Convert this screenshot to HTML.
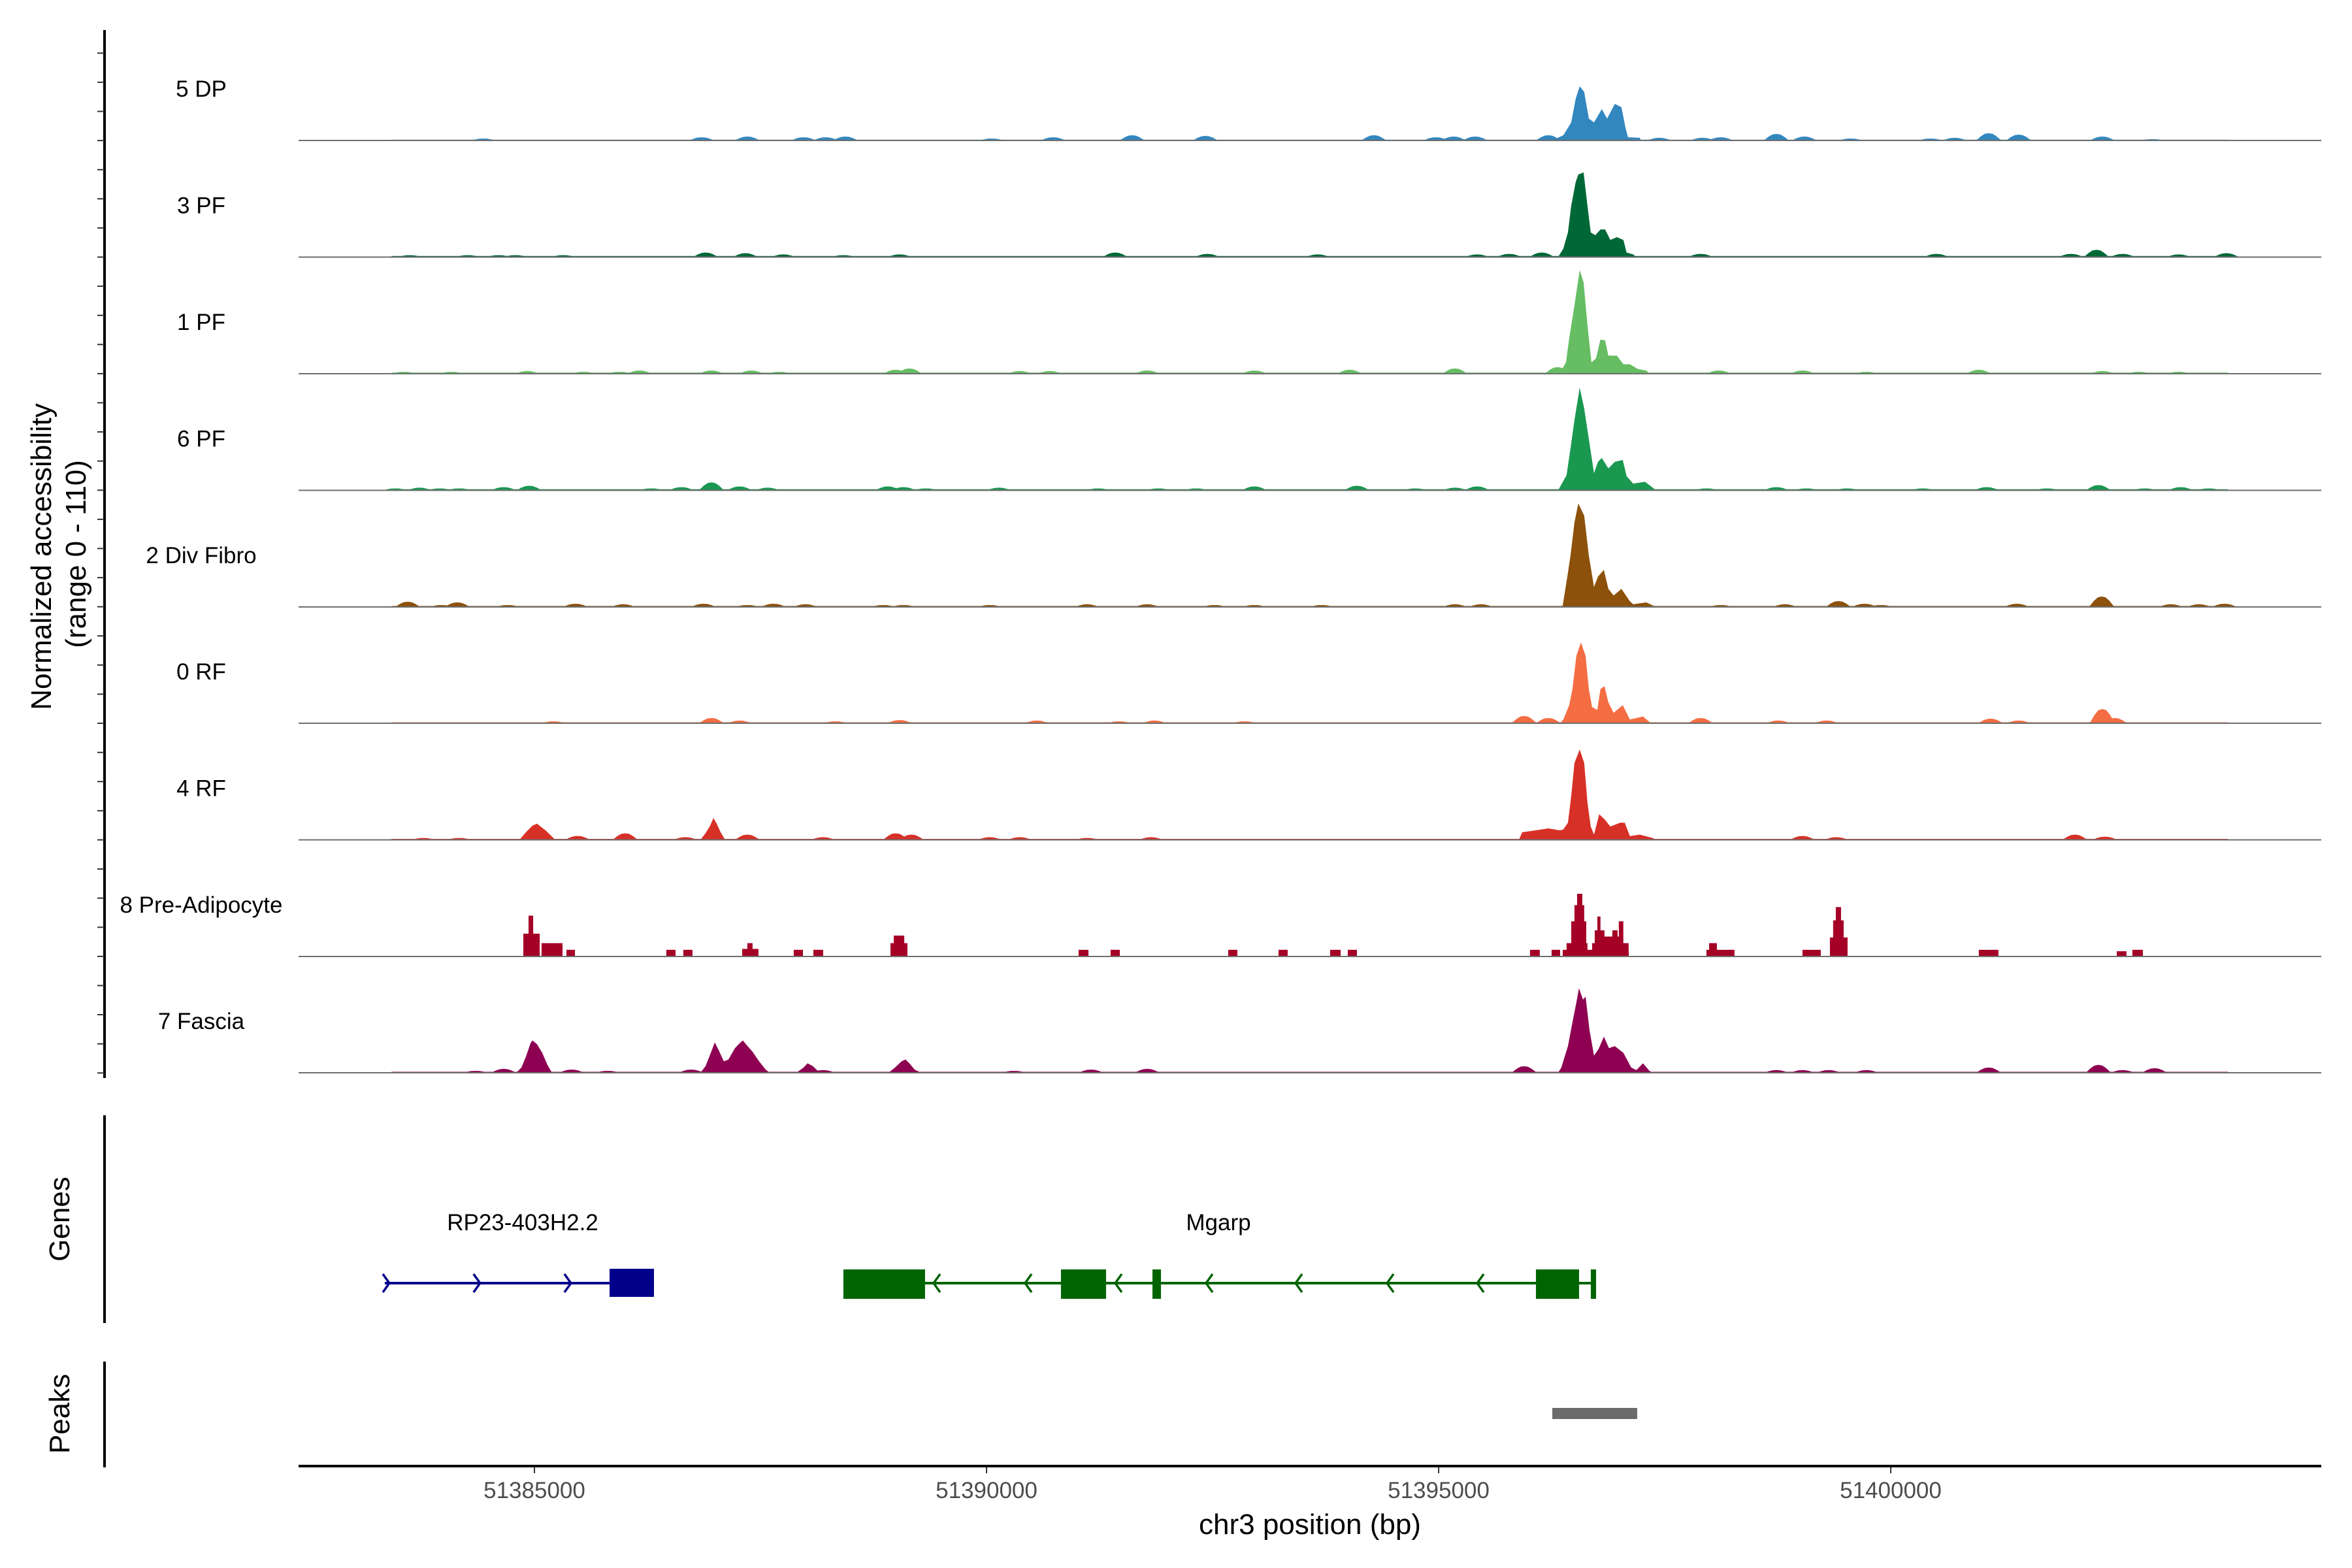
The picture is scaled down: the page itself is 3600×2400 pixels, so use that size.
<!DOCTYPE html>
<html><head><meta charset="utf-8"><style>
html,body{margin:0;padding:0;background:#fff;}
svg{display:block;font-family:"Liberation Sans",Arial,sans-serif;}
</style></head><body>
<svg id="chart" xmlns="http://www.w3.org/2000/svg" width="3600" height="2400" viewBox="0 0 3600 2400">
<rect x="0" y="0" width="3600" height="2400" fill="#fff"/>
<g id="tracks"></g>
<g id="yaxis"></g>
<text transform="translate(78,852) rotate(-90)" text-anchor="middle" font-size="44" fill="#000">Normalized accessibility</text>
<text transform="translate(131,848) rotate(-90)" text-anchor="middle" font-size="44" fill="#000">(range 0 - 110)</text>
<g id="genes"></g>
<line x1="160" y1="1707" x2="160" y2="2025" stroke="#000" stroke-width="4"/>
<text transform="translate(106,1866) rotate(-90)" text-anchor="middle" font-size="44" fill="#000">Genes</text>
<line x1="160" y1="2084" x2="160" y2="2246" stroke="#000" stroke-width="4"/>
<text transform="translate(106,2164) rotate(-90)" text-anchor="middle" font-size="44" fill="#000">Peaks</text>
<g id="peaks"></g>
<g id="xaxis"></g>
<text x="2005" y="2348" text-anchor="middle" font-size="44" fill="#000">chr3 position (bp)</text>
</svg>
<script>
// ---------- data ----------
const trackNames = ["5 DP","3 PF","1 PF","6 PF","2 Div Fibro","0 RF","4 RF","8 Pre-Adipocyte","7 Fascia"];
const trackColors = ["#3387bf","#006837","#66bd63","#1a9850","#8c510a","#f46d43","#d73027","#a50026","#8e0152"];
const xTicks = [51385000,51390000,51395000,51400000];
const yMax = 110;
const carpetStart = 51383420, carpetEnd = 51403730;
const carpetVal = [0.8,1.2,1.2,1.2,1.0,1.0,1.0,0,1.0];

const dpPos = [51396249,51396285,51396379,51396466,51396516,51396560,51396610,51396661,51396718,51396805,51396863,51396949,51397022,51397065,51397094,51397224,51397238];
const dpVal = [0,1.4,5.5,19,44,57,51,23,19,33,23,38.5,35,14,3.4,2.8,0];
const dpBgPos = [51384436,51386850,51387355,51387977,51388222,51388439,51390058,51390737,51391611,51392420,51394284,51394971,51395166,51395404,51396213,51397441,51397918,51398120,51398735,51399045,51399558,51400440,51400707,51401083,51401415,51402340,51402896];
const dpBgVal = [2,3.4,4.1,3.4,3.4,4.1,2,3.4,5.5,4.8,5.5,3.4,4.1,4.1,5.5,2.8,2.8,3.4,6.9,4.1,2,2,2.8,7.6,6.2,4.1,1.4];

const pf3Pos = [51396321,51396379,51396430,51396466,51396516,51396545,51396603,51396646,51396682,51396733,51396790,51396841,51396899,51396971,51397043,51397079,51397151,51397187];
const pf3Val = [0,9,26,54,79,87,89,54,26,23,29,29,18,21,18,4.8,2.8,0];
const pf3BgPos = [51383620,51384263,51384603,51384790,51385318,51386893,51387334,51387753,51388417,51389039,51391423,51392442,51393663,51395426,51395780,51396141,51397897,51400505,51401993,51402275,51402564,51403185,51403712];
const pf3BgVal = [2,2,2,2,2,4.8,4.1,2.8,2,2.8,4.8,3.4,2.8,2.8,3.4,4.8,3.4,3.4,3.4,7.6,3.4,2.8,4.1];

const pf1Pos = [51396321,51396357,51396408,51396444,51396502,51396560,51396603,51396646,51396690,51396740,51396790,51396841,51396877,51396971,51397043,51397115,51397202,51397296,51397332];
const pf1Val = [0,3.4,12,37,72,109,96,51,12,16,36,35,19,19,10,10,5,3.4,0];
const pf1BgPos = [51383555,51384082,51384921,51385542,51385939,51386163,51386958,51387399,51387709,51388995,51389147,51390368,51390701,51391777,51392962,51394017,51395180,51396314,51398099,51399024,51399731,51400974,51402340,51402745,51403185];
const pf1BgVal = [2,2,2.8,2,2,3.4,3.4,3.4,2,4.1,5.5,2.8,2.8,3.4,3.4,4.1,5.5,6.9,3.4,3.4,2,4.1,2.8,2,2];

const pf6Pos = [51396321,51396357,51396415,51396458,51396502,51396560,51396610,51396661,51396718,51396762,51396805,51396877,51396949,51397036,51397079,51397151,51397282,51397368,51397404];
const pf6Val = [0,6,16,44,74,108,86,54,18,30,34,23,30,32,15,7,9,2.8,0];
const pf6BgPos = [51383461,51383728,51383952,51384169,51384660,51384942,51386293,51386626,51386958,51387269,51387579,51388909,51389082,51389328,51390137,51391235,51391900,51392319,51392962,51394096,51394739,51395180,51395426,51397962,51398735,51399067,51399515,51400353,51401061,51401726,51402297,51402809,51403207,51403517];
const pf6BgVal = [2,2.8,2,2,3.4,4.8,2,3.4,8.3,4.1,2.8,4.1,3.4,2,2.8,2,2,2,4.1,4.8,2,2.8,4.1,2,3.4,2,2,2,3.4,2,5.5,2,3.4,2];

const divPos = [51396343,51396372,51396430,51396458,51396502,51396545,51396610,51396661,51396718,51396762,51396827,51396877,51396935,51397022,51397115,51397151,51397296,51397404];
const divVal = [0,1.4,36,54,89,109,96,54,21,32,39,19,12,19,6,2.8,4.8,0];
const divBgPos = [51383598,51383974,51384147,51384704,51385455,51385983,51386871,51387355,51387644,51387998,51388858,51389082,51390036,51391112,51391777,51392521,51392962,51393706,51395180,51395469,51398120,51398829,51399421,51399710,51399891,51401394,51402333,51403098,51403409,51403690];
const divBgVal = [5.5,2,4.8,2,3.4,2.8,3.4,2,3.4,2.8,2,2,2,2.8,2.8,2,2,2,2.8,2.8,2,2.8,6.2,3.4,2,3.4,11,2.8,2.8,3.4];

const rf0Pos = [51396343,51396379,51396444,51396480,51396523,51396574,51396625,51396661,51396697,51396755,51396790,51396834,51396877,51396935,51397036,51397115,51397260,51397332,51397368];
const rf0Val = [0,4,19,36,71,85,71,36,17,14,36,39,22,11,19,4,7,1.4,0];
const rf0BgPos = [51385210,51386958,51387269,51388331,51389039,51390556,51391466,51391857,51392853,51395946,51396213,51397897,51398756,51399291,51401105,51401415,51402340,51402477];
const rf0BgVal = [2,5.5,2.8,2,3.4,2.8,2,2.8,2,7.6,5.5,5.5,2.8,2.8,4.8,2.8,15,5.5];

const rf4Pos = [51384834,51384906,51384978,51385029,51385123,51385195,51385231,51386835,51386893,51386944,51386980,51387016,51387059,51387110,51395888,51395924,51396069,51396213,51396343,51396379,51396430,51396466,51396502,51396560,51396610,51396646,51396682,51396718,51396776,51396841,51396899,51397007,51397058,51397115,51397224,51397368,51397404];
const rf4Val = [0,8,15,17,10,3.4,0,0,7,15,23,17,8,0,0,8,10,12,10,11,18,46,81,95,81,39,14,5.5,27,21,14,18,18,4,5.5,2,0];
const rf4BgPos = [51383772,51384169,51385477,51386004,51386669,51387355,51388193,51388995,51389169,51390036,51390368,51391112,51391820,51399024,51399399,51402037,51402369];
const rf4BgVal = [2,2,4.1,6.9,2.8,5.5,2.8,6.9,5.5,2.8,2.8,2,2.8,4.1,2.8,5.5,3.4];

const paStart = [51384877,51384935,51385079,51385354,51386459,51386647,51387298,51387355,51387868,51388085,51388938,51388974,51391018,51391372,51392673,51393229,51393800,51393995,51396011,51396249,51396372,51396415,51396466,51396502,51396531,51396697,51396726,51396755,51396827,51396921,51396993,51397962,51397991,51399024,51399327,51399363,51399392,51400974,51402499,51402672];
const paEnd   = [51385058,51384986,51385311,51385448,51386561,51386748,51387478,51387413,51387970,51388193,51389125,51389090,51391127,51391474,51392774,51393330,51393916,51394096,51396119,51396343,51397101,51396646,51396632,51396610,51396589,51397101,51396834,51396790,51397036,51396979,51397043,51398272,51398077,51399226,51399522,51399479,51399450,51401191,51402607,51402788];
const paVal   = [24,43,14,7,7,7,8,14,7,7,14,22,7,7,7,7,7,7,7,7,7,14,37,54,66,14,27.5,42,21,27.5,37,7,14,7,20,38,52,7,5.5,7];

const faPos = [51384798,51384856,51384906,51384957,51384978,51385029,51385087,51385145,51385195,51386835,51386893,51386951,51386994,51387037,51387095,51387146,51387218,51387269,51387305,51387348,51387413,51387485,51387558,51387601,51387897,51387977,51388020,51388078,51388157,51388916,51388988,51389060,51389104,51389147,51389205,51389277,51396321,51396357,51396430,51396480,51396523,51396552,51396596,51396625,51396668,51396718,51396769,51396827,51396884,51396949,51397043,51397130,51397187,51397260,51397332,51397368];
const faVal = [0,5.5,17,31,34,30,21,8,0,0,7,21,32,24,12,14,26,31,34,29,22,12,3.4,0,0,5.5,10,7,0,0,5.5,12,14,10,3.4,0,0,5.5,28,53,74,89,77,80,45,18,25,38,26,28,21,5.5,2.8,10,2,0];
const faBgPos = [51384350,51384660,51385412,51385809,51386734,51388193,51390303,51391156,51391777,51395946,51398735,51399024,51399313,51399731,51401083,51402297,51402564,51402918];
const faBgVal = [2,4.1,3.4,2,3.4,2.8,2,3.4,4.1,6.9,2.8,2.8,2.8,2.8,5.5,8.3,2.8,4.8];

const geneNames = ["RP23-403H2.2","Mgarp"];
const rpExonStart = [51385831];
const rpExonEnd = [51386322];
const rpStart = 51383345, rpEnd = 51386322;
const mgExonStart = [51388417,51390823,51391835,51396076,51396683];
const mgExonEnd = [51389320,51391322,51391929,51396553,51396741];
const mgStart = 51388417, mgEnd = 51396741;
const peakStart = [51396257];
const peakEnd = [51397196];

// ---------- scales ----------
const X0 = 818, PXBP = 0.1384, BP0 = 51385000;
function xs(bp){ return X0 + (bp - BP0) * PXBP; }
const baselines = [215,393.5,572,750.5,929,1107,1285.5,1464,1642];
const trackH = 160;
function ys(i, v){ return baselines[i] - v / yMax * trackH; }
const NS = "http://www.w3.org/2000/svg";
function mk(tag, attrs, parent){ const e = document.createElementNS(NS, tag); for (const k in attrs) e.setAttribute(k, attrs[k]); parent.appendChild(e); return e; }

const profiles = [[dpPos,dpVal],[pf3Pos,pf3Val],[pf1Pos,pf1Val],[pf6Pos,pf6Val],[divPos,divVal],[rf0Pos,rf0Val],[rf4Pos,rf4Val],null,[faPos,faVal]];
const bgs = [[dpBgPos,dpBgVal],[pf3BgPos,pf3BgVal],[pf1BgPos,pf1BgVal],[pf6BgPos,pf6BgVal],[divBgPos,divBgVal],[rf0BgPos,rf0BgVal],[rf4BgPos,rf4BgVal],null,[faBgPos,faBgVal]];

const tracksG = document.getElementById('tracks');
const HW = 140;
for (let i = 0; i < trackNames.length; i++) {
  const g = mk('g', {}, tracksG);
  
  
  const col = trackColors[i];
  if (carpetVal[i] > 0) {
    const cx1 = xs(carpetStart), cx2 = xs(carpetEnd), cy = ys(i, carpetVal[i]);
    const c = mk('rect', {x: cx1.toFixed(1), y: cy.toFixed(1), width: (cx2-cx1).toFixed(1), height: (baselines[i]-cy).toFixed(1), fill: col}, g);
    
    
  }
  if (profiles[i]) {
    const [p, v] = profiles[i];
    let d = 'M' + xs(p[0]).toFixed(1) + ',' + baselines[i];
    for (let k = 0; k < p.length; k++) d += ' L' + xs(p[k]).toFixed(1) + ',' + ys(i, v[k]).toFixed(1);
    d += ' L' + xs(p[p.length-1]).toFixed(1) + ',' + baselines[i] + ' Z';
    const a = mk('path', {d: d, fill: col}, g);
    
    
  }
  if (bgs[i]) {
    const [p, v] = bgs[i];
    for (let k = 0; k < p.length; k++) {
      const c = p[k], h = v[k];
      const pts = [[c-HW,0],[c-HW*0.6,h*0.6],[c-HW*0.3,h*0.92],[c,h],[c+HW*0.3,h*0.92],[c+HW*0.6,h*0.6],[c+HW,0]];
      const d = 'M' + pts.map(q => xs(q[0]).toFixed(1) + ',' + ys(i,q[1]).toFixed(1)).join(' L') + ' Z';
      const b = mk('path', {d: d, fill: col}, g);
      
      
    }
  }
  if (i === 7) {
    for (let k = 0; k < paStart.length; k++) {
      const x1 = xs(paStart[k]), x2 = xs(paEnd[k]), y = ys(i, paVal[k]);
      const r = mk('rect', {x: x1.toFixed(1), y: y.toFixed(1), width: (x2-x1).toFixed(1), height: (baselines[i]-y).toFixed(1), fill: col}, g);
      
      
    }
  }
  const bl = mk('line', {x1: 457, x2: 3553, y1: baselines[i], y2: baselines[i], stroke: '#6e6e6e', 'stroke-width': 2}, g);
  
  
  const t = mk('text', {x: 308, y: baselines[i] - 67, 'text-anchor': 'middle', 'font-size': 35, fill: '#000'}, g);
  
  
  t.textContent = trackNames[i];
}

// y axis
const yax = document.getElementById('yaxis');
const yl = mk('line', {x1:160, y1:46, x2:160, y2:1650, stroke:'#000', 'stroke-width':4}, yax);


for (let k = 0; k < 36; k++) {
  const y = 81.3 + k * 44.6;
  const tk = mk('line', {x1:149, x2:160, y1:y, y2:y, stroke:'#333', 'stroke-width':2}, yax);
  
  
}

// genes
const gG = document.getElementById('genes');
const GY = 1964;
function arrowsOn(dir, col, list) {
  list.forEach(x => {
    const d = dir > 0 ? `M${x-6},${GY-14} L${x+4},${GY} L${x-6},${GY+14}` : `M${x+6},${GY-14} L${x-4},${GY} L${x+6},${GY+14}`;
    const a = mk('path', {d: d, fill:'none', stroke: col, 'stroke-width': 3.5}, gG);
    
    
  });
}
const rpLine = mk('line', {x1: xs(rpStart), x2: xs(rpEnd), y1: GY, y2: GY, stroke:'#00008b', 'stroke-width':4}, gG);


arrowsOn(1,'#00008b',[xs(51383345)+3, xs(51384370), xs(51385375)]);
for (let k = 0; k < rpExonStart.length; k++) {
  const r = mk('rect', {x: xs(rpExonStart[k]), y: 1942, width: xs(rpExonEnd[k]) - xs(rpExonStart[k]), height: 43, fill:'#00008b'}, gG);
  
  
}
const rpT = mk('text', {x: 800, y: 1883, 'text-anchor':'middle', 'font-size': 35, fill:'#000'}, gG);


rpT.textContent = geneNames[0];

const mgLine = mk('line', {x1: xs(mgStart), x2: xs(mgEnd), y1: GY, y2: GY, stroke:'#006400', 'stroke-width':4}, gG);


arrowsOn(-1,'#006400',[1433,1573,1711,1850,1987,2127,2265]);
for (let k = 0; k < mgExonStart.length; k++) {
  const x1 = xs(mgExonStart[k]), x2 = xs(mgExonEnd[k]);
  const r = mk('rect', {x: x1, y: 1943, width: Math.max(x2 - x1, 8), height: 45, fill:'#006400'}, gG);
  
  
}
const mgT = mk('text', {x: 1865, y: 1883, 'text-anchor':'middle', 'font-size': 35, fill:'#000'}, gG);


mgT.textContent = geneNames[1];

// peaks
const pG = document.getElementById('peaks');
for (let k = 0; k < peakStart.length; k++) {
  const r = mk('rect', {x: xs(peakStart[k]), y: 2155, width: xs(peakEnd[k]) - xs(peakStart[k]), height: 17, fill:'#6b6b6b'}, pG);
  
  
}

// x axis
const xG = document.getElementById('xaxis');
const xl = mk('line', {x1:457, x2:3553, y1:2244, y2:2244, stroke:'#000', 'stroke-width':4}, xG);


xTicks.forEach(v => {
  const x = xs(v);
  const tk = mk('line', {x1:x, x2:x, y1:2246, y2:2255, stroke:'#333', 'stroke-width':2}, xG);
  
  
  const t = mk('text', {x: x, y: 2293, 'text-anchor':'middle', 'font-size': 35, fill:'#4d4d4d'}, xG);
  
  
  t.textContent = String(v);
});
</script>
</body></html>
